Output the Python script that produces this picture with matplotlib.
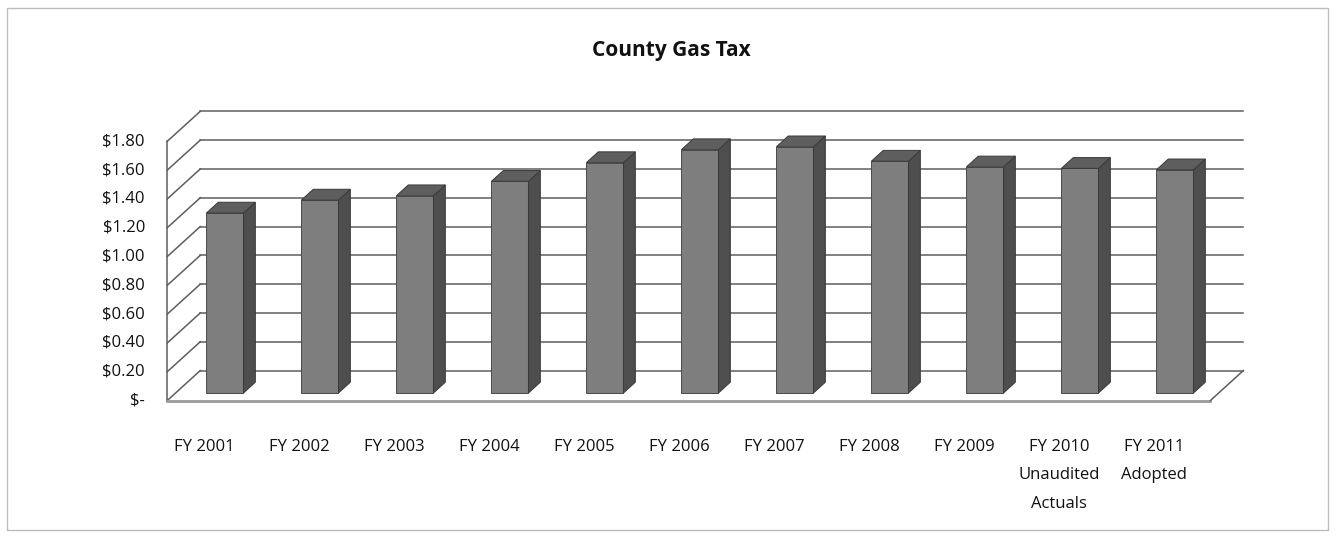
import matplotlib.pyplot as plt
from matplotlib.patches import Polygon, Rectangle

# data
categories = ["FY 2001", "FY 2002", "FY 2003", "FY 2004", "FY 2005", "FY 2006",
              "FY 2007", "FY 2008", "FY 2009", "FY 2010\nUnaudited\nActuals",
              "FY 2011\nAdopted"]
values = [1.25, 1.34, 1.37, 1.47, 1.60, 1.69, 1.71, 1.61, 1.57, 1.56, 1.55]
y_ticks = [0.0, 0.2, 0.4, 0.6, 0.8, 1.0, 1.2, 1.4, 1.6, 1.8]
y_labels = ["$-"] + [f"${v:.2f}" for v in y_ticks[1:]]

FONT = ["Open Sans", "DejaVu Sans"]
GRID = "#5e5e5e"
FRONT = "#7e7e7e"
SIDE = "#4e4e4e"
TOP = "#5e5e5e"

# oblique 3d: full depth of the floor in data units
DX, DY = 0.347, 0.208
D0, D1 = 0.25, 0.61      # bar depth span
BAR_W = 0.39
X_LEFT, X_RIGHT = -0.52, 10.46

fig = plt.figure(figsize=(13.4, 5.48), dpi=100)
ax = fig.add_axes([0, 0, 1, 1])
# 95 px per category, 144 px per dollar; category 0 at x=216.7 px, $0 at 147.5 px from bottom
ax.set_xlim(-216.7 / 95, (1340 - 216.7) / 95)
ax.set_ylim(-147.5 / 144, (548 - 147.5) / 144)
ax.axis("off")

# outer frame
fig.patches.append(Rectangle((7 / 1340, 18 / 548), 1321 / 1340, 522 / 548,
                             transform=fig.transFigure, fill=False,
                             edgecolor="#bdbdbd", lw=1.0))

# walls and gridlines
lw = 1.1
ymax = y_ticks[-1]
for v in y_ticks:
    ax.plot([X_LEFT, X_LEFT + DX], [v, v + DY], color=GRID, lw=lw, zorder=1)
    ax.plot([X_LEFT + DX, X_RIGHT + DX], [v + DY, v + DY], color=GRID, lw=lw, zorder=1)
ax.plot([X_LEFT, X_LEFT], [0, ymax], color=GRID, lw=lw, zorder=1)
ax.plot([X_LEFT, X_RIGHT], [0, 0], color="#9a9a9a", lw=2.0, zorder=1)
ax.plot([X_RIGHT, X_RIGHT + DX], [0, DY], color=GRID, lw=lw, zorder=1)

# bars
xs = list(range(len(values)))
front_x = [x + D0 * DX for x in xs]
base = D0 * DY
ddx, ddy = (D1 - D0) * DX, (D1 - D0) * DY
ax.bar(front_x, values, width=BAR_W, bottom=base, color=FRONT,
       edgecolor="#4a4a4a", lw=0.7, zorder=3)
for fx, v in zip(front_x, values):
    xl, xr = fx - BAR_W / 2, fx + BAR_W / 2
    top = base + v
    ax.add_patch(Polygon([(xr, base), (xr + ddx, base + ddy), (xr + ddx, top + ddy), (xr, top)],
                         closed=True, facecolor=SIDE, edgecolor="#3a3a3a", lw=0.7, zorder=3))
    ax.add_patch(Polygon([(xl, top), (xr, top), (xr + ddx, top + ddy), (xl + ddx, top + ddy)],
                         closed=True, facecolor=TOP, edgecolor="#3a3a3a", lw=0.7, zorder=3))

# y tick labels
for v, lab in zip(y_ticks, y_labels):
    ax.text(X_LEFT - 0.235, v, lab, ha="right", va="center", fontsize=12,
            family=FONT, color="#111111")

# category labels
for x, lab in zip(xs, categories):
    ax.text(x - 0.13, -0.265, lab, ha="center", va="top", fontsize=12,
            family=FONT, color="#111111", linespacing=2.05)

fig.text(671 / 1340, 1 - 50 / 548, "County Gas Tax", ha="center", va="center",
         fontsize=15, fontweight="bold", family=FONT, color="#111111")

fig.savefig("out.png", dpi=100, facecolor="white")
